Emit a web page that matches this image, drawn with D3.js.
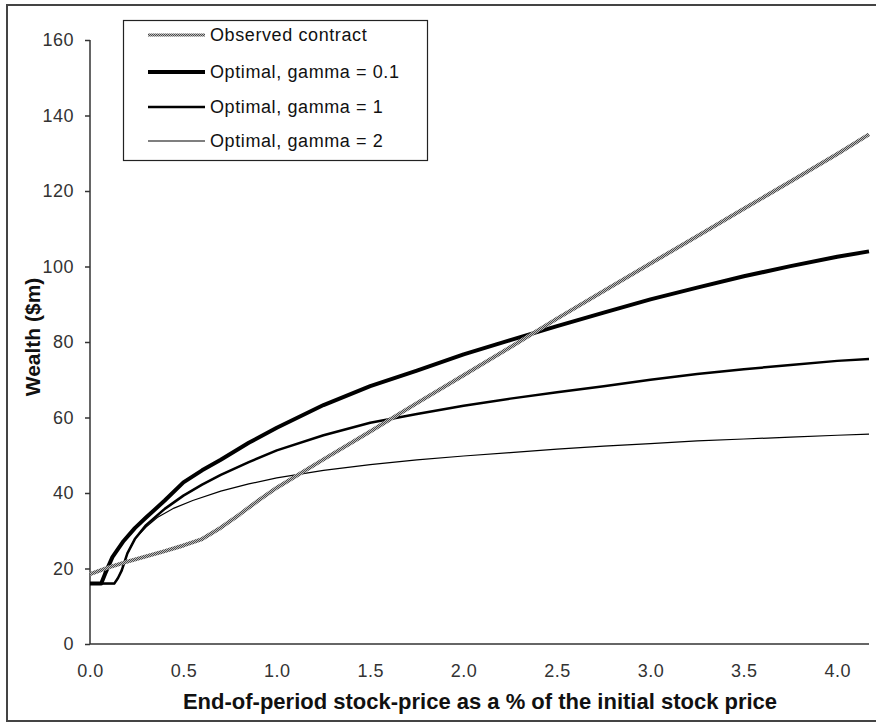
<!DOCTYPE html>
<html>
<head>
<meta charset="utf-8">
<script src="https://cdn.jsdelivr.net/npm/d3@7"></script>
<style>
  html, body { margin: 0; padding: 0; background: #fff; }
  svg { display: block; font-family: "Liberation Sans", Arial, sans-serif; }
</style>
</head>
<body>
<svg id="chart" width="876" height="723"></svg>
<script>
// ---- data ----
const xTicks = [0, 0.5, 1, 1.5, 2, 2.5, 3, 3.5, 4];
const yTicks = [0, 20, 40, 60, 80, 100, 120, 140, 160];

const xObserved = [0, 0.1, 0.2, 0.3, 0.4, 0.5, 0.6, 0.7, 0.8, 0.9, 1.0, 1.25, 1.5, 1.75, 2.0, 2.25, 2.5, 2.75, 3.0, 3.25, 3.5, 3.75, 4.0, 4.17];
const yObserved = [18.5, 20.3, 21.8, 23.2, 24.6, 26.1, 27.8, 30.8, 34.3, 38.0, 41.4, 48.9, 56.3, 63.8, 71.2, 78.6, 86.2, 93.5, 100.8, 108.0, 115.3, 122.5, 129.8, 135.0];

const xGamma01 = [0, 0.06, 0.08, 0.12, 0.18, 0.24, 0.3, 0.4, 0.5, 0.6, 0.7, 0.85, 1.0, 1.25, 1.5, 1.75, 2.0, 2.25, 2.5, 2.75, 3.0, 3.25, 3.5, 3.75, 4.0, 4.17];
const yGamma01 = [16, 16, 18.5, 23, 27.3, 30.7, 33.5, 38, 42.8, 46, 48.8, 53.3, 57.3, 63.3, 68.3, 72.4, 76.7, 80.5, 84.2, 87.8, 91.3, 94.4, 97.4, 100.1, 102.6, 104];

const xGamma1 = [0, 0.13, 0.15, 0.17, 0.2, 0.24, 0.3, 0.4, 0.5, 0.6, 0.7, 0.85, 1.0, 1.25, 1.5, 1.75, 2.0, 2.25, 2.5, 2.75, 3.0, 3.25, 3.5, 3.75, 4.0, 4.17];
const yGamma1 = [16, 16, 17.5, 19.5, 24, 27.8, 31.5, 35.8, 39.3, 42.2, 44.8, 48.2, 51.3, 55.3, 58.6, 60.9, 63.1, 65.0, 66.7, 68.3, 70.0, 71.5, 72.8, 73.9, 75.0, 75.5];

const xGamma2 = [0, 0.13, 0.15, 0.17, 0.2, 0.24, 0.3, 0.36, 0.45, 0.55, 0.7, 0.85, 1.0, 1.25, 1.5, 1.75, 2.0, 2.25, 2.5, 2.75, 3.0, 3.25, 3.5, 3.75, 4.0, 4.17];
const yGamma2 = [16, 16, 17.5, 19.5, 24, 27.8, 31, 33.5, 36, 38, 40.5, 42.4, 44, 46, 47.5, 48.8, 49.8, 50.7, 51.6, 52.4, 53.1, 53.8, 54.3, 54.8, 55.3, 55.6];

const seriesNames = ["Observed contract", "Optimal, gamma = 0.1", "Optimal, gamma = 1", "Optimal, gamma = 2"];
const xTitle = "End-of-period stock-price as a % of the initial stock price";
const yTitle = "Wealth ($m)";

// ---- build ----
const svg = d3.select("#chart");
const defs = svg.append("defs");
const pat = defs.append("pattern").attr("id", "hatch")
  .attr("width", 2).attr("height", 2).attr("patternUnits", "userSpaceOnUse");
pat.append("rect").attr("width", 2).attr("height", 2).attr("fill", "#bdbdbd");
pat.append("rect").attr("width", 1).attr("height", 1).attr("fill", "#4a4a4a");
pat.append("rect").attr("x", 1).attr("y", 1).attr("width", 1).attr("height", 1).attr("fill", "#4a4a4a");

// outer frame
svg.append("rect").attr("x", 7).attr("y", 5).attr("width", 890).attr("height", 716)
  .attr("fill", "none").attr("stroke", "#444").attr("stroke-width", 2);

const x = d3.scaleLinear().domain([0, 4.17]).range([90, 869]);
const y = d3.scaleLinear().domain([0, 160]).range([644, 40]);

// y axis
const yAxis = d3.axisLeft(y).tickValues(yTicks).tickFormat(d3.format("d")).tickSize(5).tickSizeOuter(0);
const gy = svg.append("g").attr("transform", "translate(90,0)").call(yAxis);
gy.select(".domain").attr("stroke", "#333").attr("stroke-width", 1.5).attr("d", `M0,${y(0)}V${y(160)}`);
gy.selectAll(".tick line").attr("stroke", "#333").attr("stroke-width", 1.5);
gy.selectAll(".tick text").attr("x", -16).attr("font-size", 18).attr("fill", "#333")
  .attr("letter-spacing", 0.5)
  .attr("font-family", "Liberation Sans, Arial, sans-serif");

// x axis
const xAxis = d3.axisBottom(x).tickValues(xTicks).tickFormat(d3.format(".1f")).tickSize(0).tickSizeOuter(0);
const gx = svg.append("g").attr("transform", `translate(0,${y(0)})`).call(xAxis);
gx.select(".domain").attr("stroke", "#333").attr("stroke-width", 1.5).attr("d", `M${x(0)},0H${x(4.17)}`);
gx.selectAll(".tick text").attr("y", 20).attr("dy", "0.71em").attr("font-size", 18).attr("fill", "#333")
  .attr("letter-spacing", 0.5)
  .attr("font-family", "Liberation Sans, Arial, sans-serif");

// titles
svg.append("text").attr("x", 480).attr("y", 709).attr("text-anchor", "middle")
  .attr("font-size", 22).attr("font-weight", "bold").attr("fill", "#111").text(xTitle);
svg.append("text").attr("transform", "translate(40,337) rotate(-90)").attr("text-anchor", "middle")
  .attr("font-size", 21).attr("font-weight", "bold").attr("fill", "#111").text(yTitle);

// lines
const line = d3.line().x(d => x(d[0])).y(d => y(d[1]));
const zip = (xs, ys) => xs.map((v, i) => [v, ys[i]]);

const series = [
  { name: seriesNames[0], data: zip(xObserved, yObserved), stroke: "url(#hatch)", width: 4 },
  { name: seriesNames[1], data: zip(xGamma01, yGamma01), stroke: "#000", width: 4 },
  { name: seriesNames[2], data: zip(xGamma1, yGamma1), stroke: "#000", width: 2.5 },
  { name: seriesNames[3], data: zip(xGamma2, yGamma2), stroke: "#000", width: 1.2 }
];
const drawOrder = [3, 2, 1, 0];
drawOrder.forEach(i => {
  const s = series[i];
  svg.append("path").attr("d", line(s.data)).attr("fill", "none")
    .attr("stroke", s.stroke).attr("stroke-width", s.width)
    .attr("stroke-linejoin", "round");
});

// legend
const lg = svg.append("g");
lg.append("rect").attr("x", 123.5).attr("y", 20.5).attr("width", 304).attr("height", 140)
  .attr("fill", "#fff").attr("stroke", "#222").attr("stroke-width", 1.2);
const rowY = [35, 72, 107, 141];
series.forEach((s, i) => {
  lg.append("line").attr("x1", 148).attr("x2", 205).attr("y1", rowY[i]).attr("y2", rowY[i])
    .attr("stroke", s.stroke).attr("stroke-width", i === 0 ? 3 : s.width);
  lg.append("text").attr("x", 210).attr("y", rowY[i]).attr("dy", "0.35em")
    .attr("font-size", 18).attr("letter-spacing", 0.6).attr("fill", "#111").text(s.name);
});
</script>
</body>
</html>
